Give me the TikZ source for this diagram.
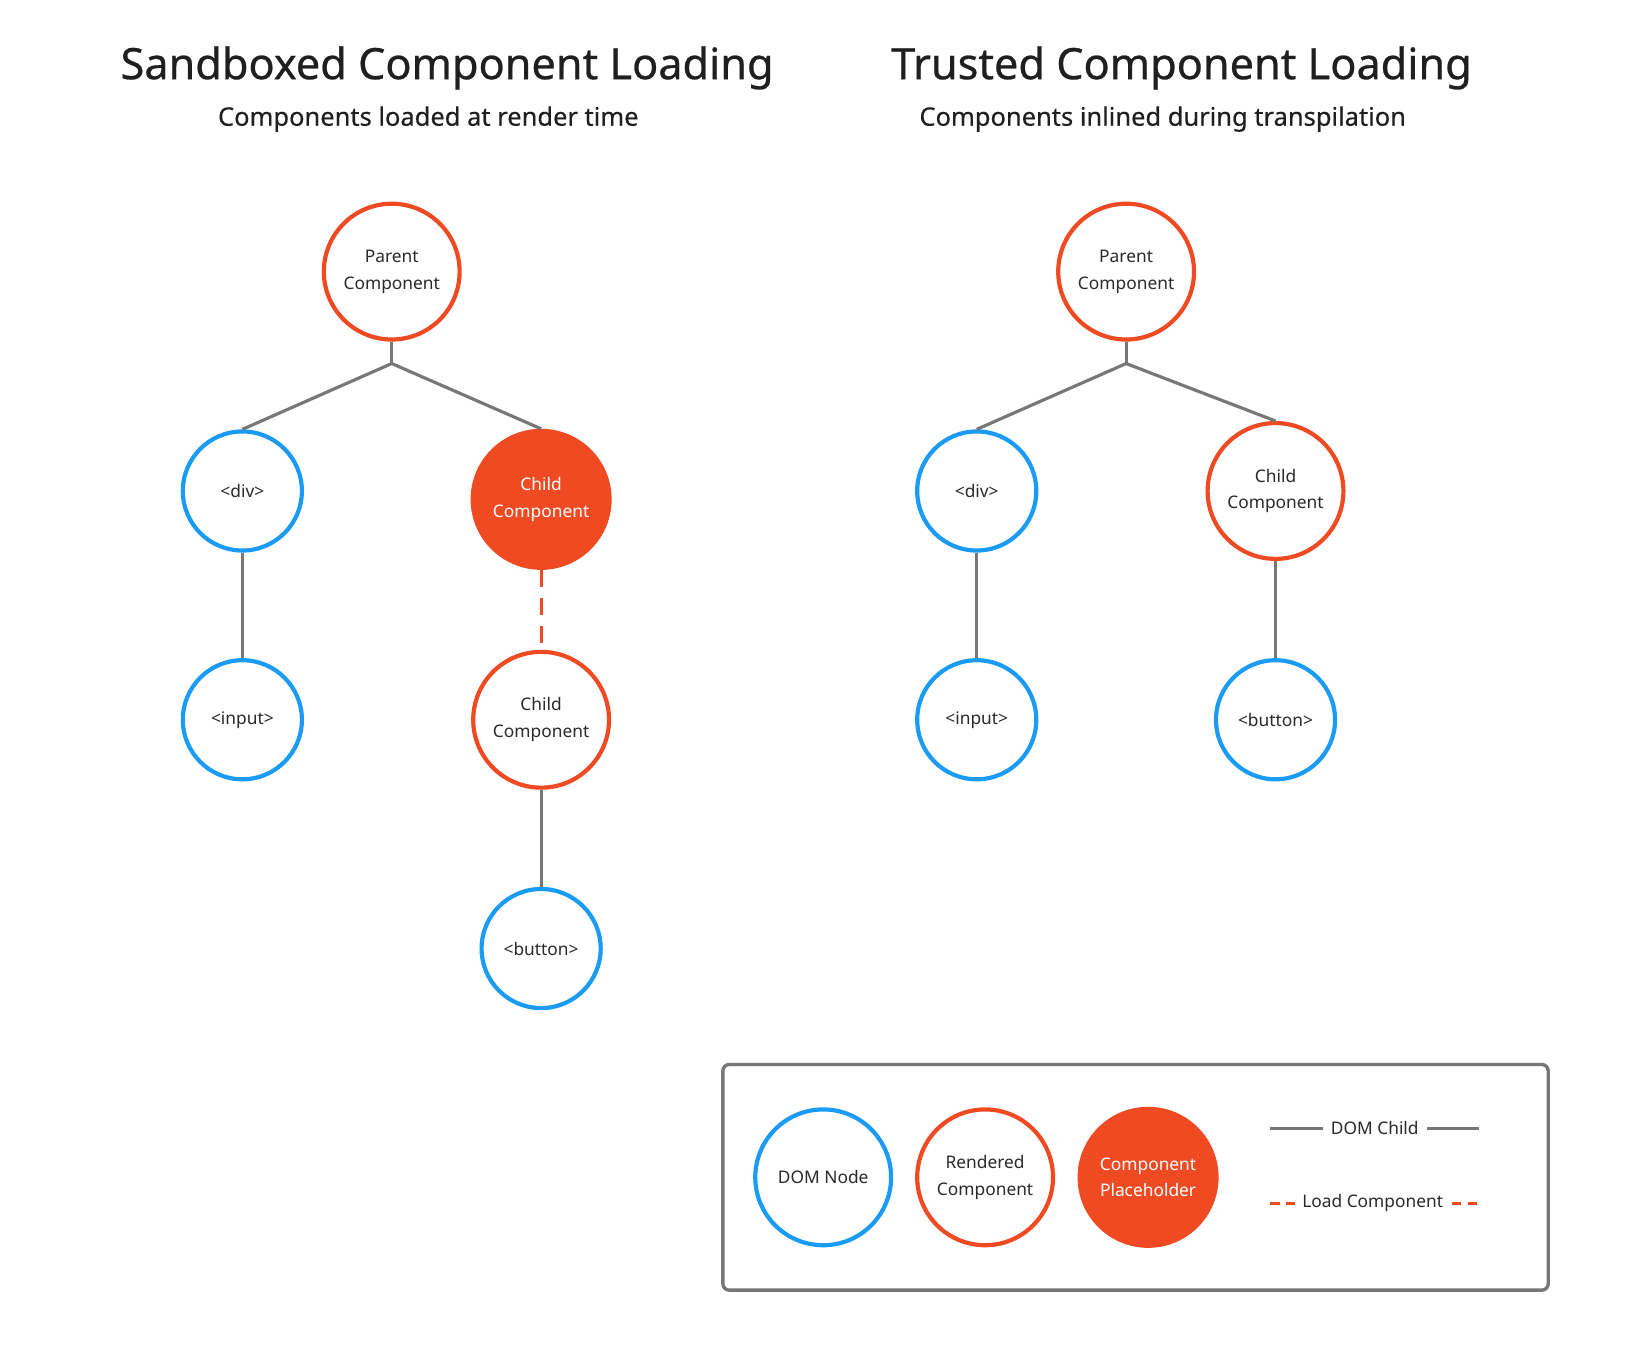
\documentclass[tikz,border=0pt]{standalone}
\usepackage{fontspec}
\setmainfont{Noto Sans}
\newfontfamily\medfont{Noto Sans}[FakeBold=0.6]
\newfontfamily\subfont{Noto Sans}[FakeBold=0.3]
\definecolor{dblue}{HTML}{1A9BF5}
\definecolor{dorange}{HTML}{F04A23}
\definecolor{lgray}{HTML}{777777}
\definecolor{txt}{HTML}{2A2A2A}
\begin{document}
\begin{tikzpicture}[x=0.5pt,y=-0.5pt,
  every node/.style={text=txt},
  ntext/.style={align=center,font=\fontsize{8.3}{12.9}\selectfont},
  domnode/.style={circle,draw=dblue,line width=2pt,fill=white,minimum size=57pt,inner sep=0pt,ntext},
  rendnode/.style={circle,draw=dorange,line width=2pt,fill=white,minimum size=65pt,inner sep=0pt,ntext},
  placenode/.style={circle,draw=dorange,line width=0.5pt,fill=dorange,minimum size=67pt,inner sep=0pt,ntext,text=white},
  child/.style={draw=lgray,line width=1.5pt},
  loadline/.style={draw=dorange,line width=1.5pt,dash pattern=on 8pt off 5.5pt},
  title/.style={font=\medfont\fontsize{20.7}{24}\selectfont,text=black!88},
  subtitle/.style={font=\subfont\fontsize{12.2}{14}\selectfont,text=black!88},
  legtext/.style={font=\fontsize{8.3}{10}\selectfont,inner sep=1pt}
]
\useasboundingbox (0,0) rectangle (1568,1289);
\fill[white] (0,0) rectangle (1568,1289);

% titles
\node[title] (t1) at (428,65) {Sandboxed Component Loading};
\node[subtitle] (s1) at (410,114) {Components loaded at render time};
\node[title] (t2) at (1131,65) {Trusted Component Loading};
\node[subtitle] (s2) at (1113,114) {Components inlined during transpilation};

% left tree
\node[rendnode] (lp) at (375,260) {Parent\\Component};
\coordinate (lj) at (375,348);
\node[domnode] (ldiv) at (232,470) {<div>};
\node[placenode] (lch) at (518,478) {Child\\Component};
\node[domnode] (linp) at (232,689) {<input>};
\node[rendnode] (lcr) at (518,689) {Child\\Component};
\node[domnode] (lbtn) at (518,908) {<button>};
\draw[child] (lp.south) -- (lj);
\draw[child] (lj) -- (ldiv.north);
\draw[child] (lj) -- (lch.north);
\draw[child] (ldiv.south) -- (linp.north);
\draw[loadline] (lch.south) -- (lcr.north);
\draw[child] (lcr.south) -- (lbtn.north);

% right tree
\node[rendnode] (rp) at (1078,260) {Parent\\Component};
\coordinate (rj) at (1078,348);
\node[domnode] (rdiv) at (935,470) {<div>};
\node[rendnode] (rch) at (1221,470) {Child\\Component};
\node[domnode] (rinp) at (935,689) {<input>};
\node[domnode] (rbtn) at (1221,689) {<button>};
\draw[child] (rp.south) -- (rj);
\draw[child] (rj) -- (rdiv.north);
\draw[child] (rj) -- (rch.north);
\draw[child] (rdiv.south) -- (rinp.north);
\draw[child] (rch.south) -- (rbtn.north);

% legend
\draw[draw=lgray,line width=1.6pt,rounded corners=3pt] (692,1019) rectangle (1482,1235);
\node[rendnode,draw=dblue,minimum size=65pt] (ldom) at (788,1127) {DOM Node};
\node[rendnode] (lren) at (943,1127) {Rendered\\Component};
\node[placenode] (lpla) at (1099,1127) {Component\\Placeholder};
\node[legtext] (ldc) at (1316,1080) {DOM Child};
\coordinate (ldc1) at (1216,1080);
\coordinate (ldc1e) at (1266,1080);
\coordinate (ldc2s) at (1366,1080);
\coordinate (ldc2) at (1416,1080);
\draw[child] (ldc1) -- (ldc1e);
\draw[child] (ldc2s) -- (ldc2);
\node[legtext] (llc) at (1314,1152) {Load Component};
\coordinate (llc1) at (1216,1152);
\coordinate (llc1e) at (1240,1152);
\coordinate (llc2s) at (1390,1152);
\coordinate (llc2) at (1414,1152);
\draw[loadline,dash pattern=on 4.5pt off 3pt] (llc1) -- (llc1e);
\draw[loadline,dash pattern=on 4.5pt off 3pt] (llc2s) -- (llc2);
\end{tikzpicture}
\end{document}
